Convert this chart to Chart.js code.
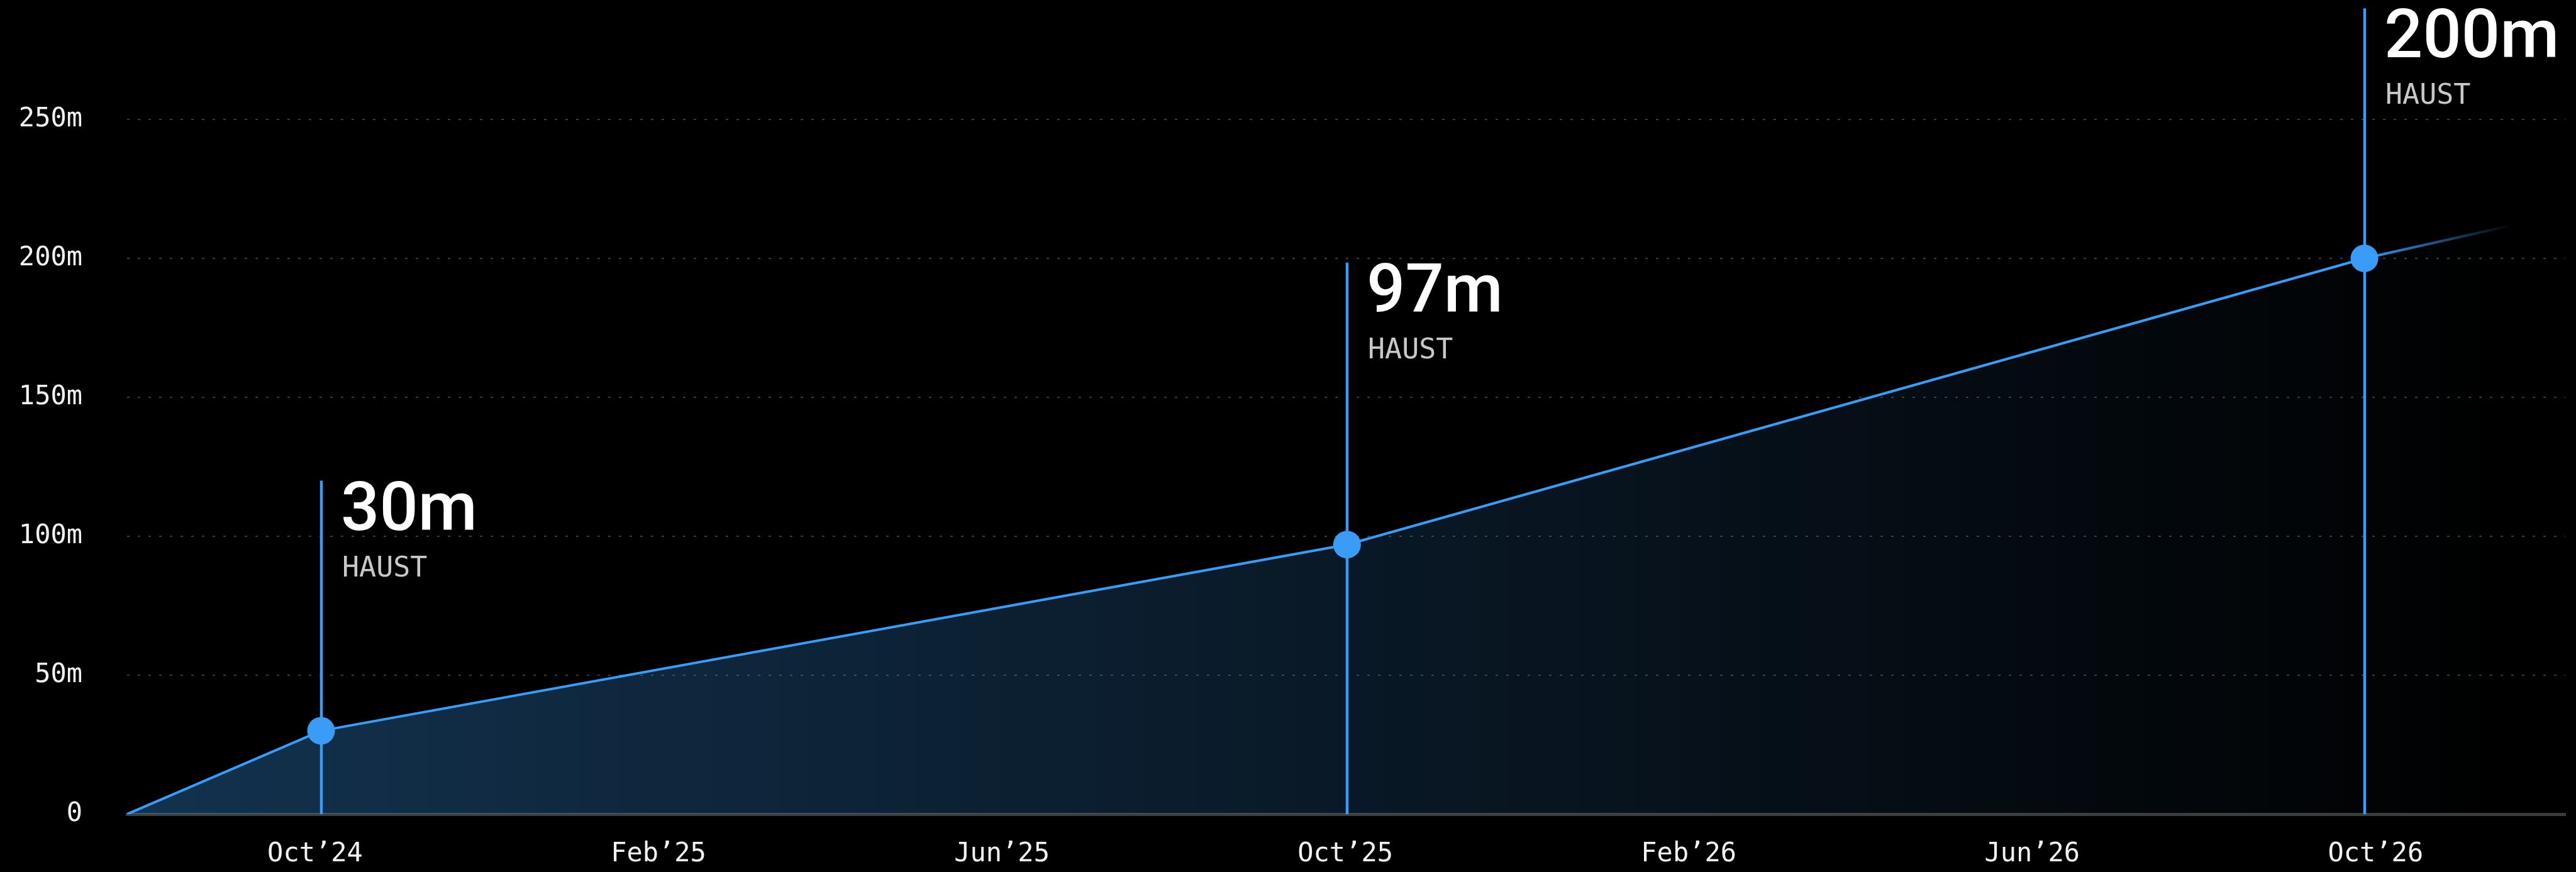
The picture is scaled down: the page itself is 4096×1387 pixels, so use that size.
<!DOCTYPE html>
<html>
<head>
<meta charset="utf-8">
<script src="https://cdn.jsdelivr.net/npm/chart.js@4.4.1/dist/chart.umd.min.js"></script>
<style>
  html, body { margin: 0; padding: 0; background: #000; overflow: hidden; }
  #chart { display: block; background: #000; }
</style>
</head>
<body>
<canvas id="chart" width="4096" height="1387"></canvas>
<script>
// x values are months counted from Oct'24
const tickMonths = [0, 4, 8, 12, 16, 20, 24];
const tickLabels = ['Oct’24', 'Feb’25', 'Jun’25', 'Oct’25', 'Feb’26', 'Jun’26', 'Oct’26'];
const yTicks = [0, 50, 100, 150, 200, 250];

const lineMonths = [-2.19, 0.07, 12.02, 23.87, 25.6];
const lineValues = [0, 30, 97, 200, 212];

// callouts sit on points 1..3 of the line
const calloutPoints = [1, 2, 3];
const calloutLabels = ['30m', '97m', '200m'];
const calloutSub = ['HAUST', 'HAUST', 'HAUST'];
const calloutTops = [120, 198.5, 290];

const X_MIN = -2.19, X_MAX = 26.21, Y_MAX = 293;
const BLUE = '#3a9cf6';
const TICK_FONT = '"DejaVu Sans Mono", monospace';

function fillGradient(c) {
  const chart = c.chart;
  const area = chart.chartArea;
  if (!area) return 'rgba(58,156,245,0.2)';
  const end = chart.scales.x.getPixelForValue(lineMonths[lineMonths.length - 1]);
  const g = chart.ctx.createLinearGradient(area.left, 0, end, 0);
  g.addColorStop(0, 'rgba(58,156,245,0.32)');
  g.addColorStop(1, 'rgba(58,156,245,0)');
  return g;
}

function lineGradient(c) {
  const chart = c.chart;
  const area = chart.chartArea;
  if (!area) return BLUE;
  const xs = chart.scales.x;
  const last = lineMonths.length - 1;
  const x0 = xs.getPixelForValue(lineMonths[last - 1]);
  const x1 = xs.getPixelForValue(lineMonths[last]);
  const g = chart.ctx.createLinearGradient(area.left, 0, x1, 0);
  g.addColorStop(0, BLUE);
  g.addColorStop((x0 - area.left) / (x1 - area.left), BLUE);
  g.addColorStop(1, 'rgba(58,156,246,0)');
  return g;
}

// vertical lines + big value labels
const callouts = {
  id: 'callouts',
  afterDatasetsDraw(chart) {
    const { ctx } = chart;
    const x = chart.scales.x, y = chart.scales.y;
    const base = y.getPixelForValue(0);
    ctx.save();
    calloutPoints.forEach((idx, i) => {
      const px = Math.round(x.getPixelForValue(lineMonths[idx]));
      const top = y.getPixelForValue(calloutTops[i]);
      ctx.strokeStyle = BLUE;
      ctx.lineWidth = 4.5;
      ctx.beginPath();
      ctx.moveTo(px, top);
      ctx.lineTo(px, base);
      ctx.stroke();

      ctx.textAlign = 'left';
      ctx.textBaseline = 'alphabetic';
      ctx.fillStyle = '#ffffff';
      ctx.font = '500 108px Roboto';
      ctx.fillText(calloutLabels[i], px + 31, top + 78);
      ctx.fillStyle = '#c8c8c8';
      ctx.font = '45px ' + TICK_FONT;
      ctx.fillText(calloutSub[i], px + 33, top + 152);
    });
    ctx.restore();
  }
};

function draw() {
  const canvas = document.getElementById('chart');
  new Chart(canvas.getContext('2d'), {
    type: 'line',
    data: {
      datasets: [{
        data: lineMonths.map((m, i) => ({ x: m, y: lineValues[i] })),
        borderColor: lineGradient,
        borderWidth: 4,
        fill: 'origin',
        backgroundColor: fillGradient,
        tension: 0,
        pointRadius: c => calloutPoints.includes(c.dataIndex) ? 22 : 0,
        pointHoverRadius: 0,
        pointBackgroundColor: BLUE,
        pointBorderColor: BLUE,
        pointBorderWidth: 0
      }]
    },
    options: {
      responsive: false,
      animation: false,
      devicePixelRatio: 1,
      layout: { autoPadding: false, padding: { top: 0, right: 17, bottom: 0, left: 0 } },
      plugins: { legend: { display: false }, tooltip: { enabled: false } },
      scales: {
        x: {
          type: 'linear',
          min: X_MIN,
          max: X_MAX,
          afterBuildTicks: s => { s.ticks = tickMonths.map(v => ({ value: v })); },
          afterFit: s => {
            s.height = 92;
            s.paddingLeft = 0; s.paddingRight = 0; s.paddingTop = 0; s.paddingBottom = 0;
          },
          grid: { display: false, drawTicks: false },
          border: { display: true, color: '#3c3c3c', width: 5 },
          ticks: {
            autoSkip: false,
            maxRotation: 0,
            padding: 39,
            color: '#f2f2f2',
            font: { family: TICK_FONT, size: 42 },
            callback: (v, i) => tickLabels[i]
          }
        },
        y: {
          min: 0,
          max: Y_MAX,
          afterBuildTicks: s => { s.ticks = yTicks.map(v => ({ value: v })); },
          afterFit: s => {
            s.width = 202;
            s.paddingLeft = 0; s.paddingRight = 0; s.paddingTop = 0; s.paddingBottom = 0;
          },
          grid: { color: '#3a3a3a', lineWidth: 2, drawTicks: false },
          border: { display: false, dash: [4, 13] },
          ticks: {
            padding: 71,
            crossAlign: 'near',
            color: '#f2f2f2',
            font: { family: TICK_FONT, size: 42 },
            callback: v => v === 0 ? '0' : v + 'm'
          }
        }
      }
    },
    plugins: [callouts]
  });
}

Promise.all([
  document.fonts.load('500 108px Roboto'),
  document.fonts.load('42px "DejaVu Sans Mono"')
]).then(draw, draw);
</script>
</body>
</html>
